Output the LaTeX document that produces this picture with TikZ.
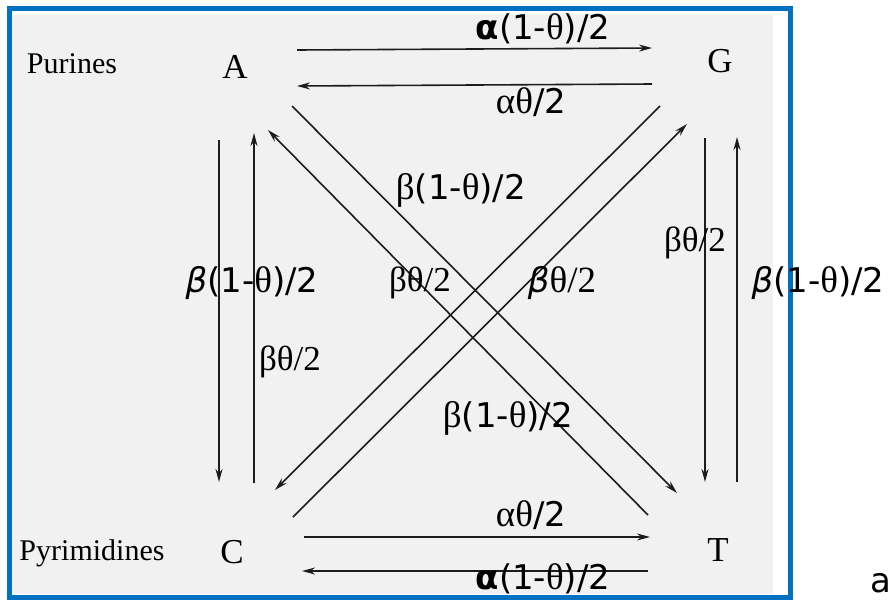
\documentclass[tikz,border=0pt]{standalone}
\usepackage{fontspec}
\usetikzlibrary{calc,arrows.meta}
\newfontfamily\lblsans{DejaVu Sans}
\newfontfamily\lblserif{Liberation Serif}
\definecolor{frameblue}{HTML}{0070C0}
\definecolor{scangray}{HTML}{F1F1F1}
\definecolor{ink}{HTML}{1C1C1C}
\newcommand{\srf}[1]{{\lblserif\fontsize{37}{40}\selectfont #1}}

\begin{document}
\begin{tikzpicture}[x=1pt,y=-1pt,
  base/.style={font=\lblserif\fontsize{35}{38}\selectfont,inner sep=0pt},
  side/.style={font=\lblserif\fontsize{30}{34}\selectfont,inner sep=0pt},
  rate/.style={font=\lblsans\fontsize{34}{38}\selectfont,inner sep=0pt},
  flow/.style={ink,line width=1.6pt,-{Stealth[length=13pt,width=7pt]}}]
\useasboundingbox (0,0) rectangle (894,600);
\fill[scangray] (12,15) rectangle (773,594);
\draw[frameblue,line width=5pt] (9,8) rectangle (790,597);

\node[side] (pur) at (72,64) {Purines};
\node[side] (pyr) at (92,553) {Pyrimidines};
\node[base] (A) at (235,67) {A};
\node[base] (G) at (720,61) {G};
\node[base] (C) at (232,552) {C};
\node[base] (T) at (718,550) {T};

% transitions
\draw[flow] ($(A)+(62,-17)$) -- ($(G)+(-68,-13)$);
\draw[flow] ($(G)+(-68,23)$) -- ($(A)+(62,19)$);
\draw[flow] ($(C)+(72,-15)$) -- ($(T)+(-68,-13)$);
\draw[flow] ($(T)+(-70,21)$) -- ($(C)+(70,19)$);
\draw[flow] ($(A)+(-16,73)$) -- ($(C)+(-13,-70)$);
\draw[flow] ($(C)+(22,-69)$) -- ($(A)+(19,66)$);
\draw[flow] ($(G)+(-15,77)$) -- ($(T)+(-13,-68)$);
\draw[flow] ($(T)+(19,-68)$) -- ($(G)+(17,76)$);
\draw[flow] ($(A)+(57,39)$) -- ($(T)+(-41,-57)$);
\draw[flow] ($(T)+(-70,-35)$) -- ($(A)+(33,63)$);
\draw[flow] ($(G)+(-60,45)$) -- ($(C)+(43,-62)$);
\draw[flow] ($(C)+(61,-35)$) -- ($(G)+(-33,63)$);

\node[rate] (agtop) at (543,29) {\textbf{α}(1-\srf{θ})/2};
\node[rate] (ga) at (531,102) {\srf{αθ}/2};
\node[rate] (atd) at (461,190) {\srf{β}(1-\srf{θ})/2};
\node[base] (gt) at (695,243) {βθ/2};
\node[rate] (ac) at (252,283) {\textit{β}(1-\srf{θ})/2};
\node[base] (cg) at (420,283) {βθ/2};
\node[rate] (ga2) at (562,283) {\textit{β}\srf{θ/2}};
\node[rate] (tg) at (818,283) {\textit{β}(1-\srf{θ})/2};
\node[base] (ca) at (290,362) {βθ/2};
\node[rate] (ta) at (508,418) {\srf{β}(1-\srf{θ})/2};
\node[rate] (ct) at (531,515) {\srf{αθ}/2};
\node[rate] (tc) at (543,579) {\textbf{α}(1-\srf{θ})/2};
\node[rate,anchor=east] (tag) at (892,583) {a};
\end{tikzpicture}
\end{document}
